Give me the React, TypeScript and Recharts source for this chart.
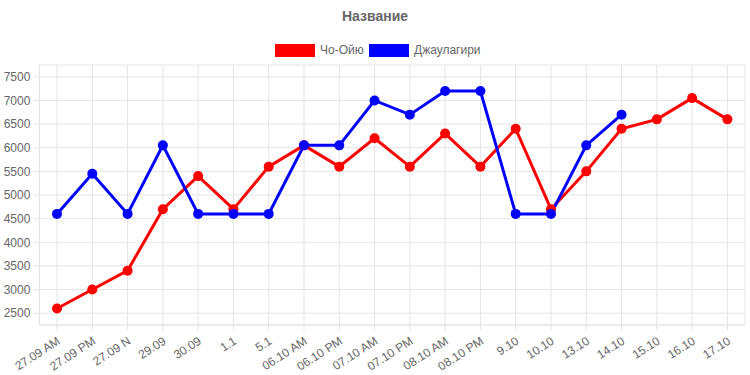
import React from "react";
import { LineChart, Line, XAxis, YAxis, CartesianGrid } from "recharts";

const categories = [
  "27.09 AM", "27.09 PM", "27.09 N", "29.09", "30.09", "1.1", "5.1",
  "06.10 AM", "06.10 PM", "07.10 AM", "07.10 PM", "08.10 AM", "08.10 PM",
  "9.10", "10.10", "13.10", "14.10", "15.10", "16.10", "17.10",
];
const choOyu = [2600, 3000, 3400, 4700, 5400, 4700, 5600, 6050, 5600, 6200, 5600, 6300, 5600, 6400, 4700, 5500, 6400, 6600, 7050, 6600];
const dhaulagiri: (number | null)[] = [4600, 5450, 4600, 6050, 4600, 4600, 4600, 6050, 6050, 7000, 6700, 7200, 7200, 4600, 4600, 6050, 6700, null, null, null];
const yTicks = [2500, 3000, 3500, 4000, 4500, 5000, 5500, 6000, 6500, 7000, 7500];
const seriesNames = ["Чо-Ойю", "Джаулагири"];
const seriesColors = ["#ff0000", "#0000ff"];
const legendLeft = [275, 369];
const title = "Название";

const data = categories.map((c, i) => ({ name: c, a: choOyu[i], b: dhaulagiri[i] }));

const FONT = "'Liberation Sans', Arial, Helvetica, sans-serif";

const XTick = (props: any) => {
  const { x, y, payload } = props;
  return (
    <text
      x={x + 4}
      y={y + 10}
      transform={`rotate(-33, ${x + 4}, ${y + 10})`}
      textAnchor="end"
      fontSize={12}
      fill="#666"
      fontFamily={FONT}
    >
      {payload.value}
    </text>
  );
};

export default function App() {
  return (
    <div style={{ position: "absolute", left: 0, top: 0, width: 750, height: 375, fontFamily: FONT }}>
      <div style={{ position: "absolute", left: 0, top: 8, width: 750, textAlign: "center", fontSize: 14, fontWeight: "bold", color: "#666" }}>
        {title}
      </div>
      {seriesNames.map((n, i) => (
        <div key={n} style={{ position: "absolute", left: legendLeft[i], top: 43, display: "flex", alignItems: "center", fontSize: 12, color: "#666" }}>
          <div style={{ width: 40, height: 13, background: seriesColors[i], marginRight: 5 }} />
          <span style={{ lineHeight: "14px", whiteSpace: "nowrap" }}>{n}</span>
        </div>
      ))}
      <LineChart width={750} height={375} data={data} margin={{ top: 65, right: 5, bottom: 0, left: 0 }}>
        <CartesianGrid stroke="#e5e5e5" horizontal vertical />
        <XAxis
          dataKey="name"
          interval={0}
          padding={{ left: 17.6, right: 17.6 }}
          height={50}
          tick={<XTick />}
          tickSize={6}
          tickLine={{ stroke: "#e5e5e5" }}
          axisLine={{ stroke: "#e5e5e5" }}
        />
        <YAxis
          width={39.4}
          domain={[2250, 7750]}
          ticks={yTicks}
          interval={0}
          tickSize={6}
          tickMargin={3}
          tickLine={{ stroke: "#e5e5e5" }}
          axisLine={{ stroke: "#e5e5e5" }}
          tick={{ fontSize: 12, fill: "#666", fontFamily: FONT }}
        />
        <Line
          dataKey="a"
          stroke={seriesColors[0]}
          strokeWidth={3}
          dot={{ r: 5, fill: seriesColors[0], stroke: seriesColors[0], strokeWidth: 0 }}
          activeDot={false}
          isAnimationActive={false}
        />
        <Line
          dataKey="b"
          stroke={seriesColors[1]}
          strokeWidth={3}
          dot={{ r: 5, fill: seriesColors[1], stroke: seriesColors[1], strokeWidth: 0 }}
          activeDot={false}
          isAnimationActive={false}
        />
      </LineChart>
    </div>
  );
}
